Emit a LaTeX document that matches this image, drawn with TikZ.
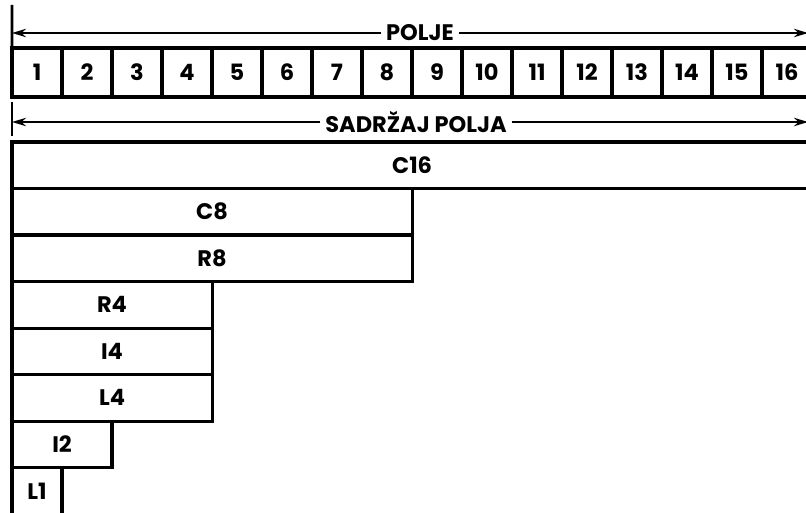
\documentclass[tikz,border=0pt]{standalone}
\usepackage{fontspec}
\setmainfont{Poppins}
\usetikzlibrary{arrows.meta,positioning}
\tikzset{
 cellbox/.style={draw,line width=2.2pt,outer sep=0pt,inner sep=0pt,minimum width=1.25cm,minimum height=1.225cm},
 rowbox/.style={draw,line width=2.2pt,outer sep=0pt,inner sep=0pt,minimum height=1.1625cm,anchor=north west},
 span/.style={line width=1.3pt,-{Stealth[length=10pt,width=6pt]}},
 tick/.style={line width=2pt}
}
\begin{document}
\begin{tikzpicture}[x=0.025cm,y=-0.025cm,font=\fontsize{16}{18}\selectfont\bfseries]
\useasboundingbox (0,0) rectangle (806,512);
% field cells
\foreach \i in {1,...,16}
 {\node[cellbox] (c\i) at ({50*\i-13},72.5) {\i};}
% POLJE span
\node (polje) at (420,33) {POLJE};
\coordinate (pl) at (12,33);\coordinate (pr) at (808,33);
\coordinate (pt) at (12,5);
\draw[tick] (pt)--(c1.north west);
\draw[span] (polje.west)--(pl);\draw[span] (polje.east)--(pr);
% SADRZAJ POLJA span
\node (sadrzaj) at (416,122) {SADRŽAJ POLJA};
\coordinate (sl) at (12,122);\coordinate (sr) at (808,122);
\coordinate (st) at (12,102);\coordinate (sb) at (12,136);
\draw[tick] (st)--(sb);
\draw[span] (sadrzaj.west)--(sl);\draw[span] (sadrzaj.east)--(sr);
% content types
\node[rowbox,minimum width=20cm] (rC16) at (12,142) {C16};
\node[rowbox,minimum width=10cm] (rC8) at (rC16.south west) {C8};
\node[rowbox,minimum width=10cm] (rR8) at (rC8.south west) {R8};
\node[rowbox,minimum width=5cm] (rR4) at (rR8.south west) {R4};
\node[rowbox,minimum width=5cm] (rI4) at (rR4.south west) {I4};
\node[rowbox,minimum width=5cm] (rL4) at (rI4.south west) {L4};
\node[rowbox,minimum width=2.5cm] (rI2) at (rL4.south west) {I2};
\node[rowbox,minimum width=1.25cm] (rL1) at (rI2.south west) {L1};
\end{tikzpicture}
\end{document}
